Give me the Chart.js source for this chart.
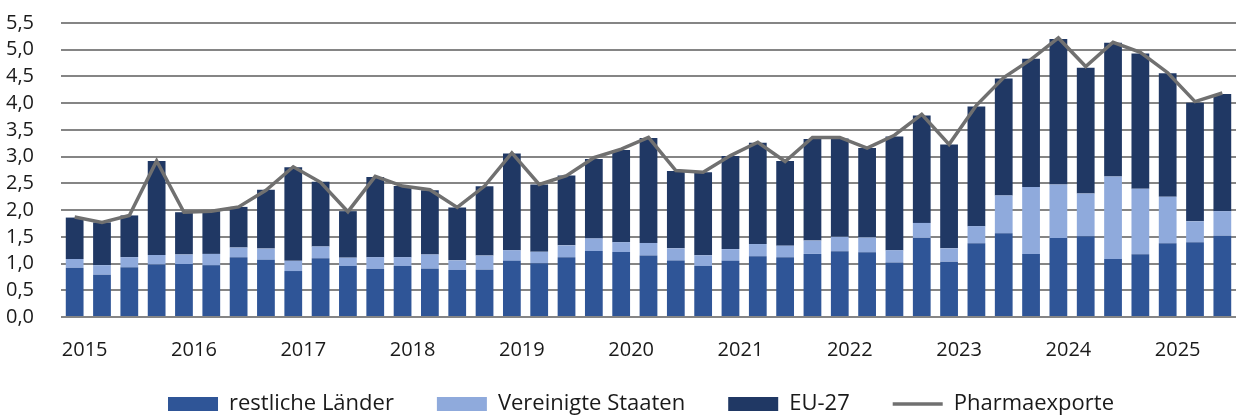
<!DOCTYPE html>
<html>
<head>
<meta charset="utf-8">
<script src="https://cdn.jsdelivr.net/npm/chart.js@4/dist/chart.umd.min.js"></script>
<style>
  html, body { margin: 0; padding: 0; background: #fff; overflow: hidden; }
  #wrap { width: 1236px; height: 434px; }
</style>
</head>
<body>
<div id="wrap"><canvas id="c" width="1236" height="434"></canvas></div>
<script>
const years = ['2015','2016','2017','2018','2019','2020','2021','2022','2023','2024','2025'];
const quarters = [];
years.forEach(y => ['Q1','Q2','Q3','Q4'].forEach(q => quarters.push(y + ' ' + q)));
quarters.length = 43; // bis 2025 Q3

const restliche = [0.92,0.79,0.93,0.98,0.99,0.97,1.12,1.07,0.86,1.10,0.955,0.90,0.955,0.905,0.88,0.885,
  1.05,1.005,1.12,1.235,1.215,1.15,1.055,0.955,1.05,1.135,1.12,1.18,1.23,1.21,1.02,1.48,1.035,1.38,
  1.565,1.18,1.48,1.51,1.085,1.175,1.38,1.40,1.52];
const usa = [0.165,0.18,0.19,0.18,0.18,0.21,0.18,0.21,0.19,0.22,0.155,0.22,0.165,0.265,0.18,0.265,
  0.20,0.215,0.22,0.235,0.185,0.235,0.23,0.20,0.22,0.23,0.215,0.25,0.27,0.28,0.23,0.28,0.25,0.32,
  0.71,1.25,1.00,0.80,1.545,1.225,0.87,0.39,0.46];
const eu27 = [0.775,0.80,0.78,1.76,0.79,0.80,0.76,1.10,1.75,1.21,0.87,1.50,1.33,1.20,0.99,1.295,
  1.81,1.26,1.305,1.485,1.725,1.965,1.445,1.555,1.74,1.895,1.585,1.90,1.84,1.67,2.125,2.01,1.94,2.24,
  2.185,2.40,2.72,2.355,2.50,2.53,2.31,2.22,2.19];
const pharma = [1.87,1.77,1.90,2.92,1.96,1.98,2.06,2.37,2.81,2.52,1.97,2.63,2.45,2.38,2.05,2.45,
  3.07,2.48,2.645,2.98,3.14,3.36,2.74,2.71,3.02,3.27,2.91,3.36,3.36,3.16,3.40,3.79,3.23,3.96,
  4.48,4.82,5.22,4.685,5.14,4.95,4.57,4.03,4.19];

const textColor = '#1a1a1a';
const font = { family: '"Open Sans", "Noto Sans", sans-serif', size: 20 };
const legendFont = { family: '"Open Sans", "Noto Sans", sans-serif', size: 22 };

// legend sits a bit right of centre and closer to the axis than chart.js would put it
const legendShift = {
  id: 'legendShift',
  afterLayout(chart) {
    const lg = chart.legend;
    lg.left += 20; lg.right += 20;
    lg.top -= 9; lg.bottom -= 9;
  }
};

new Chart(document.getElementById('c'), {
  data: {
    labels: quarters,
    datasets: [
      { type: 'bar', label: 'restliche Länder', data: restliche, backgroundColor: '#2f5597', order: 1, stack: 's' },
      { type: 'bar', label: 'Vereinigte Staaten', data: usa, backgroundColor: '#8faadc', order: 1, stack: 's' },
      { type: 'bar', label: 'EU-27', data: eu27, backgroundColor: '#203864', order: 1, stack: 's' },
      { type: 'line', label: 'Pharmaexporte', data: pharma, borderColor: '#707070', backgroundColor: '#707070',
        borderWidth: 3.5, pointRadius: 0, pointStyle: 'line', tension: 0, order: 0 }
    ]
  },
  options: {
    responsive: false,
    animation: false,
    layout: { padding: { top: 23, left: 6, right: 0, bottom: 0 } },
    datasets: { bar: { barPercentage: 0.65, categoryPercentage: 1 } },
    plugins: {
      tooltip: { enabled: false },
      legend: {
        position: 'bottom',
        labels: {
          font: legendFont,
          color: textColor,
          usePointStyle: true,
          pointStyleWidth: 50,
          boxHeight: 14,
          padding: 43,
          sort: (a, b) => a.datasetIndex - b.datasetIndex,
          generateLabels(chart) {
            return chart.data.datasets.map((ds, i) => ({
              text: ds.label,
              datasetIndex: i,
              fillStyle: ds.backgroundColor,
              strokeStyle: ds.type === 'line' ? ds.borderColor : ds.backgroundColor,
              lineWidth: ds.type === 'line' ? 3.5 : 0,
              pointStyle: ds.type === 'line' ? 'line' : 'rect',
              fontColor: textColor,
              hidden: false
            }));
          }
        }
      }
    },
    scales: {
      x: {
        stacked: true,
        grid: { display: false },
        border: { display: false },
        ticks: {
          autoSkip: false,
          maxRotation: 0,
          minRotation: 0,
          padding: 13,
          labelOffset: 10,
          color: textColor,
          font: font,
          callback: (v, i) => (i % 4 === 0 ? years[i / 4] : '')
        },
        afterFit: s => { s.height = 42; }
      },
      y: {
        stacked: true,
        min: 0,
        max: 5.5,
        grid: { color: '#858585', lineWidth: 2, drawTicks: false },
        border: { display: false },
        ticks: {
          stepSize: 0.5,
          autoSkip: false,
          padding: 0,
          crossAlign: 'far',
          color: textColor,
          font: font,
          callback: v => v.toFixed(1).replace('.', ',')
        },
        afterFit: s => { s.width = 55; }
      }
    }
  },
  plugins: [legendShift]
});
</script>
</body>
</html>
